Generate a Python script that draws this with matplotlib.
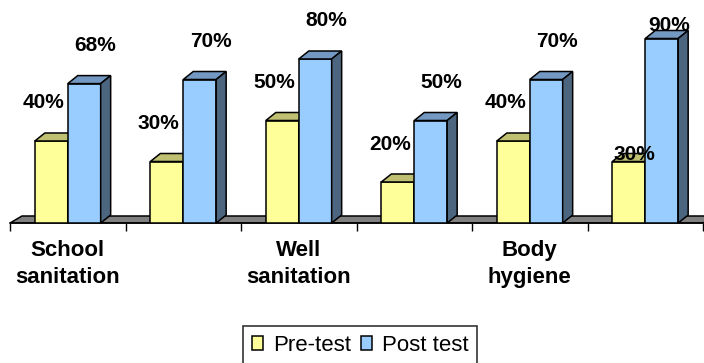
import matplotlib
matplotlib.use("Agg")
import matplotlib.pyplot as plt
import numpy as np
from matplotlib.patches import Polygon, Patch

plt.rcParams["font.family"] = ["Liberation Sans", "DejaVu Sans"]

# Survey results per hygiene topic (percent)
categories = ["School\nsanitation", "", "Well\nsanitation", "", "Body\nhygiene", ""]
pre_test = [40, 30, 50, 20, 40, 30]
post_test = [68, 70, 80, 50, 70, 90]
series_names = ["Pre-test", "Post test"]

# face colours: front, top, side
STYLES = {
    "Pre-test": ("#FFFF99", "#C0C072", "#8F8F50"),
    "Post test": ("#99CCFF", "#7399C2", "#4D6680"),
}

W, H, DPI = 704, 363, 100
fig = plt.figure(figsize=(W / DPI, H / DPI), dpi=DPI)

# axes spans the category floor; zero line sits 140 px above the bottom
ax_left, ax_right, ax_bottom = 10, 703, 140
ax = fig.add_axes([ax_left / W, ax_bottom / H, (ax_right - ax_left) / W, 1 - ax_bottom / H])
px_per_pct = 2.05
ax.set_xlim(-0.5, len(categories) - 0.5)
ax.set_ylim(0, (H - ax_bottom) / px_per_pct)

# pixel -> data conversions for the pseudo-3D depth
px_per_cat = (ax_right - ax_left) / len(categories)
def dx(px):
    return px / px_per_cat
def dy(px):
    return px / px_per_pct

bw = 0.285
bar_dx, bar_dy = dx(10), dy(8)
floor_dx, floor_dy = dx(12), dy(7)
EDGE = dict(edgecolor="black", linewidth=1.1)

# grey floor
x0, x1 = -0.5, len(categories) - 0.5
ax.add_patch(Polygon([(x0, 0), (x1, 0), (x1 + floor_dx, floor_dy), (x0 + floor_dx, floor_dy)],
                     closed=True, facecolor="#808080", zorder=1, clip_on=False, **EDGE))


def draw_box(x_left, h, colors, z):
    front, top, side = colors
    x_right = x_left + bw
    ax.bar(x_left, h, width=bw, align="edge", color=front, zorder=z, **EDGE)
    ax.add_patch(Polygon([(x_left, h), (x_right, h), (x_right + bar_dx, h + bar_dy),
                          (x_left + bar_dx, h + bar_dy)],
                         closed=True, facecolor=top, zorder=z, clip_on=False, **EDGE))
    ax.add_patch(Polygon([(x_right, 0), (x_right + bar_dx, bar_dy), (x_right + bar_dx, h + bar_dy),
                          (x_right, h)],
                         closed=True, facecolor=side, zorder=z, clip_on=False, **EDGE))


x = np.arange(len(categories))
label_kw = dict(textcoords="offset pixels", ha="center", va="center",
                fontsize=15, fontweight="bold", zorder=50, annotation_clip=False)

for i in range(len(categories)):
    draw_box(x[i] - bw, pre_test[i], STYLES["Pre-test"], 2 + 2 * i)
    draw_box(x[i], post_test[i], STYLES["Post test"], 3 + 2 * i)

    # last group is pushed down under the top edge
    last = i == len(categories) - 1
    pre_off = (6, 7) if last else (-8, 38)
    post_off = (7, 13) if last else (11, 38)
    ax.annotate(f"{pre_test[i]}%", (x[i] - bw / 2, pre_test[i]), xytext=pre_off, **label_kw)
    ax.annotate(f"{post_test[i]}%", (x[i] + bw / 2, post_test[i]), xytext=post_off, **label_kw)

# category boundaries as ticks, names centred between them
ax.set_xticks(np.arange(-0.5, len(categories), 1))
ax.set_xticklabels([])
ax.tick_params(axis="x", which="major", length=6, width=1, direction="out", color="black")
ax.set_xticks(x, minor=True)
ax.set_xticklabels(categories, minor=True, fontsize=16, fontweight="bold", linespacing=1.4)
ax.tick_params(axis="x", which="minor", length=0, pad=12)
ax.set_yticks([])
for side in ["left", "right", "top"]:
    ax.spines[side].set_visible(False)
ax.spines["bottom"].set_linewidth(1.1)
ax.spines["bottom"].set_zorder(1.5)

handles = [Patch(facecolor=STYLES[n][0], edgecolor="black", linewidth=1.1, label=n) for n in series_names]
leg = fig.legend(handles=handles, loc="upper center", bbox_to_anchor=(360 / W, 1 - 326 / H),
                 ncol=2, fontsize=16, frameon=True, fancybox=False, edgecolor="black",
                 handlelength=0.5, handleheight=0.55, handletextpad=0.45, columnspacing=0.45,
                 borderpad=0.4, borderaxespad=0)
leg.get_frame().set_linewidth(1.2)

fig.savefig("out.png", dpi=DPI)
